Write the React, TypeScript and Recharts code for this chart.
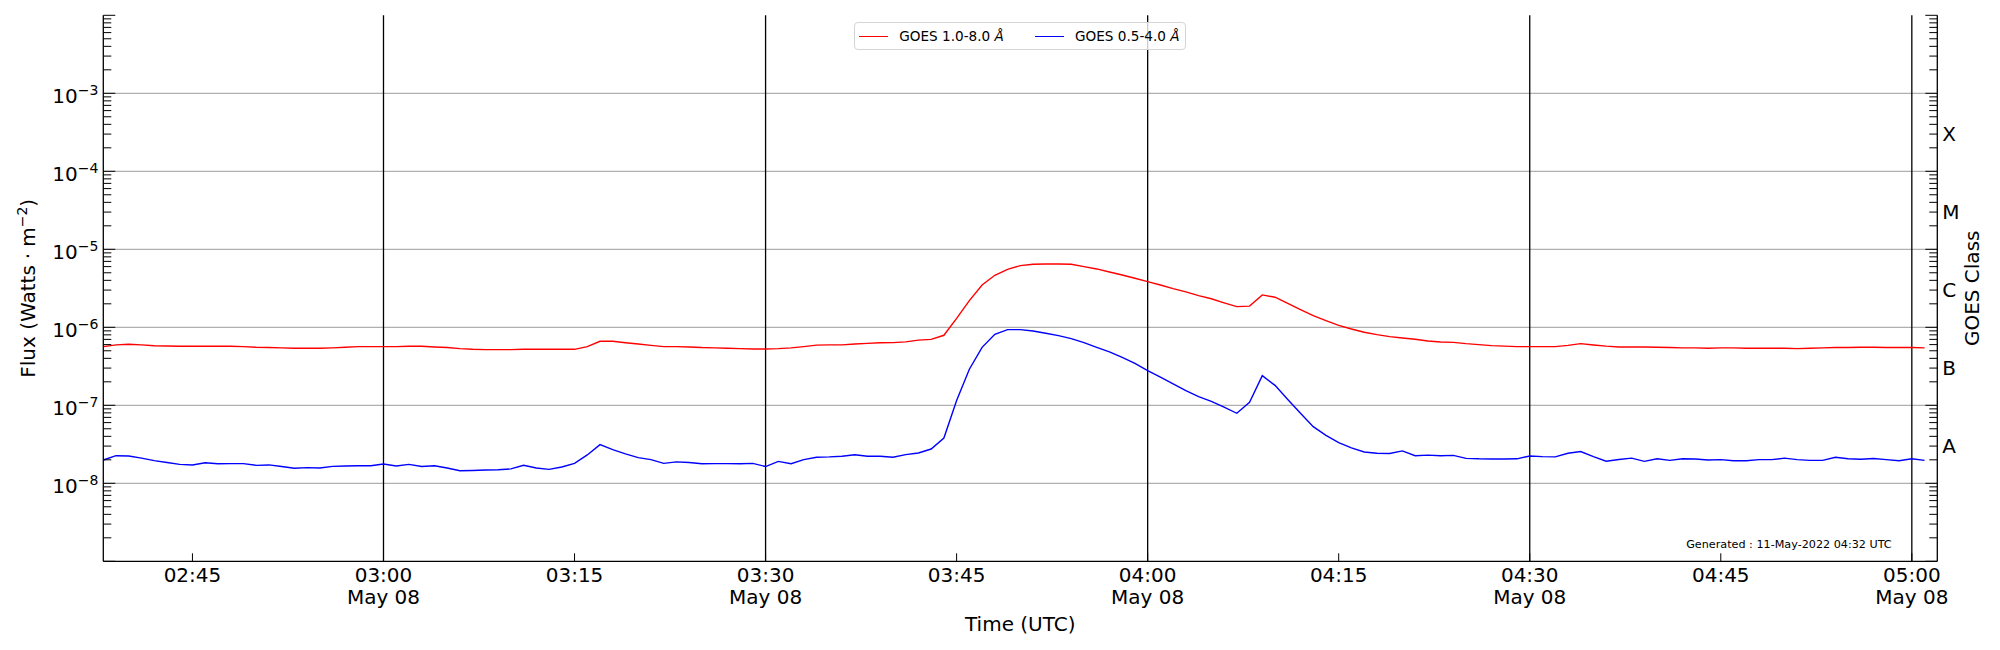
import {
  Legend,
  Line,
  LineChart,
  ReferenceLine,
  XAxis,
  YAxis,
} from "recharts";

// one-minute GOES XRS samples, 02:38 to 05:01 UTC on 2022-05-08
const START_MINUTE = 158; // 02:38 in minutes after midnight

// 1.0-8.0 Å channel, units of 1e-7 W/m^2
const longFlux = [
  5.65, 5.95, 6.05, 5.95, 5.8, 5.76, 5.71, 5.71, 5.71, 5.71, 5.71, 5.65,
  5.55, 5.5, 5.45, 5.38, 5.38, 5.38, 5.45, 5.55, 5.65, 5.65, 5.65, 5.65,
  5.71, 5.71, 5.6, 5.5, 5.33, 5.22, 5.17, 5.17, 5.17, 5.22, 5.22, 5.22,
  5.22, 5.22, 5.65, 6.61, 6.61, 6.35, 6.11, 5.87, 5.65, 5.65, 5.6, 5.5,
  5.45, 5.38, 5.33, 5.28, 5.28, 5.33, 5.45, 5.65, 5.9, 5.95, 5.95, 6.11,
  6.23, 6.35, 6.36, 6.5, 6.85, 7.0, 7.9, 13.0, 22.0, 34.9, 46.4, 55.4,
  61.7, 64.2, 64.7, 64.7, 64.2, 60.0, 56.0, 51.2, 46.9, 42.5, 38.5, 34.9,
  31.3, 28.4, 25.5, 23.2, 20.6, 18.4, 18.7, 26.0, 24.3, 20.2, 16.8, 14.1,
  12.2, 10.6, 9.5, 8.63, 8.05, 7.59, 7.3, 7.02, 6.68, 6.48, 6.4, 6.17,
  6.0, 5.82, 5.73, 5.65, 5.65, 5.65, 5.65, 5.87, 6.17, 5.93, 5.73, 5.6,
  5.6, 5.58, 5.55, 5.5, 5.45, 5.45, 5.38, 5.45, 5.45, 5.38, 5.38, 5.38,
  5.38, 5.33, 5.38, 5.45, 5.5, 5.5, 5.55, 5.55, 5.5, 5.5, 5.5, 5.45,
];

// 0.5-4.0 Å channel, units of 1e-8 W/m^2
const shortFlux = [
  1.99, 2.26, 2.24, 2.1, 1.95, 1.85, 1.75, 1.72, 1.83, 1.78, 1.79, 1.79,
  1.7, 1.72, 1.64, 1.56, 1.59, 1.57, 1.65, 1.67, 1.68, 1.68, 1.77, 1.67,
  1.75, 1.64, 1.68, 1.57, 1.45, 1.46, 1.48, 1.49, 1.53, 1.7, 1.57, 1.51,
  1.62, 1.8, 2.31, 3.13, 2.7, 2.38, 2.13, 2.01, 1.8, 1.88, 1.85, 1.78,
  1.79, 1.79, 1.78, 1.8, 1.64, 1.91, 1.78, 2.01, 2.16, 2.18, 2.22, 2.32,
  2.22, 2.22, 2.16, 2.33, 2.45, 2.75, 3.81, 11.5, 29.0, 55.4, 81.3, 93.3,
  93.3, 89.7, 83.8, 78.2, 71.6, 63.6, 55.4, 48.3, 41.2, 34.5, 27.8, 22.9,
  18.8, 15.4, 12.9, 11.2, 9.5, 7.9, 10.9, 24.0, 18.0, 11.9, 7.89, 5.33,
  4.12, 3.32, 2.84, 2.52, 2.43, 2.41, 2.6, 2.26, 2.3, 2.26, 2.28, 2.09,
  2.06, 2.05, 2.05, 2.06, 2.24, 2.2, 2.18, 2.43, 2.55, 2.2, 1.92, 2.02,
  2.1, 1.91, 2.06, 1.97, 2.06, 2.05, 1.99, 2.01, 1.95, 1.95, 2.01, 2.01,
  2.1, 2.01, 1.97, 1.97, 2.16, 2.06, 2.03, 2.08, 2.01, 1.95, 2.06, 1.97,
];

const seriesNames = ["GOES 1.0-8.0", "GOES 0.5-4.0"];
const seriesColors = ["#ff0000", "#0000ff"];

const xTickMinutes = [165, 180, 195, 210, 225, 240, 255, 270, 285, 300];
const xTickLabels = ["02:45", "03:00", "03:15", "03:30", "03:45", "04:00", "04:15", "04:30", "04:45", "05:00"];
const dateTickMinutes = [180, 210, 240, 270, 300];
const dateLabel = "May 08";

const decadeExponents = [-9, -8, -7, -6, -5, -4, -3, -2];
const labelledExponents = [-8, -7, -6, -5, -4, -3];
const goesClasses = ["A", "B", "C", "M", "X"];
const goesClassValues = [3e-8, 3e-7, 3e-6, 3e-5, 3e-4];

const generatedNote = "Generated : 11-May-2022 04:32 UTC";

const data = longFlux.map((v, i) => ({
  minute: START_MINUTE + i,
  long: v * 1e-7,
  short: shortFlux[i] * 1e-8,
}));

// major + minor log ticks
const logTicks: number[] = [];
decadeExponents.forEach((e) => {
  for (let m = 1; m <= 9; m++) {
    const v = m * Math.pow(10, e);
    if (v <= 1e-2) logTicks.push(Number(v.toPrecision(3)));
  }
});

const isDecade = (v: number) => Math.abs(Math.log10(v) - Math.round(Math.log10(v))) < 1e-6;

const LeftTick = (props: any) => {
  const { x, y, payload } = props;
  const v = payload.value;
  const major = isDecade(v);
  const exp = Math.round(Math.log10(v));
  return (
    <g>
      <line x1={x} x2={x + (major ? 12 : 8)} y1={y} y2={y} stroke="#000" strokeWidth={1} />
      {major && labelledExponents.includes(exp) && (
        <text x={x - 5} y={y + 10} textAnchor="end" fontSize={20} fill="#000">
          10
          <tspan dy={-8.5} fontSize={14}>
            {"\u2212" + Math.abs(exp)}
          </tspan>
        </text>
      )}
    </g>
  );
};

const RightTick = (props: any) => {
  const { x, y, payload } = props;
  const v = payload.value;
  const major = isDecade(v);
  const ci = goesClassValues.findIndex((c) => Math.abs(c - v) / c < 1e-6);
  return (
    <g>
      <line x1={x} x2={x - (major ? 12 : 8)} y1={y} y2={y} stroke="#000" strokeWidth={1} />
      {ci >= 0 && (
        <text x={x + 5} y={y + 7} textAnchor="start" fontSize={20} fill="#000">
          {goesClasses[ci]}
        </text>
      )}
    </g>
  );
};

const TimeTick = (props: any) => {
  const { x, y, payload } = props;
  const i = xTickMinutes.indexOf(payload.value);
  return (
    <g>
      <line x1={x} x2={x} y1={y} y2={y - 8} stroke="#000" strokeWidth={1} />
      <text x={x} y={y + 21} textAnchor="middle" fontSize={20} fill="#000">
        {xTickLabels[i]}
      </text>
      {dateTickMinutes.includes(payload.value) && (
        <text x={x} y={y + 43} textAnchor="middle" fontSize={20} fill="#000">
          {dateLabel}
        </text>
      )}
    </g>
  );
};

const FluxLabel = (props: any) => {
  const { viewBox } = props;
  const cx = viewBox.x + 35;
  const cy = viewBox.y + viewBox.height / 2;
  return (
    <text x={cx} y={cy} transform={`rotate(-90, ${cx}, ${cy})`} textAnchor="middle" fontSize={20} fill="#000">
      Flux (Watts
      <tspan dx={6}>·</tspan>
      <tspan dx={6}>m</tspan>
      <tspan dy={-8} fontSize={14}>
        {"\u22122"}
      </tspan>
      <tspan dy={8}>)</tspan>
    </text>
  );
};

const ClassLabel = (props: any) => {
  const { viewBox } = props;
  const cx = viewBox.x + 41.7;
  const cy = viewBox.y + viewBox.height / 2;
  return (
    <text x={cx} y={cy} transform={`rotate(-90, ${cx}, ${cy})`} textAnchor="middle" fontSize={20} fill="#000">
      GOES Class
    </text>
  );
};

const TimeLabel = (props: any) => {
  const { viewBox } = props;
  return (
    <g>
      <text x={viewBox.x + viewBox.width / 2} y={viewBox.y + 70} textAnchor="middle" fontSize={20} fill="#000">
        Time (UTC)
      </text>
      <text x={viewBox.x + viewBox.width - 45.6} y={viewBox.y - 13} textAnchor="end" fontSize={11.2} fill="#000">
        {generatedNote}
      </text>
    </g>
  );
};

// legend entries sit at fixed offsets inside the frame
const legendItemLeft = [4, 179.7];

function GoesLegend() {
  return (
    <div
      style={{
        position: "relative",
        boxSizing: "border-box",
        width: 332,
        height: 28,
        border: "1px solid #d4d4d4",
        borderRadius: 4,
        background: "rgba(255,255,255,0.8)",
        overflow: "hidden",
        fontSize: 13.6,
        color: "#000",
        whiteSpace: "nowrap",
      }}
    >
      {seriesNames.map((name, i) => (
        <div
          key={name}
          style={{ position: "absolute", left: legendItemLeft[i], top: 0, height: 26, display: "flex", alignItems: "center" }}
        >
          <div style={{ width: 29, height: 0, borderTop: `1.4px solid ${seriesColors[i]}`, marginRight: 11 }} />
          <span>
            {name} <i>Å</i>
          </span>
        </div>
      ))}
    </div>
  );
}

export default function App() {
  return (
    <div style={{ width: 2000, height: 650, fontFamily: "'DejaVu Sans', sans-serif", background: "#fff" }}>
      <style>{`body { margin: 0; }`}</style>
      <LineChart width={2000} height={650} data={data} margin={{ top: 15.3, right: 0, bottom: 0, left: 0 }}>
        <XAxis
          dataKey="minute"
          type="number"
          domain={[158, 302]}
          allowDataOverflow
          ticks={xTickMinutes}
          interval={0}
          height={88.7}
          tickSize={0}
          tickMargin={0}
          tickLine={false}
          axisLine={{ stroke: "#000", strokeWidth: 1.3 }}
          tick={<TimeTick />}
          label={<TimeLabel />}
        />
        <XAxis
          xAxisId="top"
          orientation="top"
          dataKey="minute"
          type="number"
          domain={[158, 302]}
          allowDataOverflow
          height={0}
          tick={false}
          tickLine={false}
          axisLine={{ stroke: "#000", strokeWidth: 1.3 }}
        />
        <YAxis
          yAxisId="left"
          scale="log"
          type="number"
          domain={[1e-9, 1e-2]}
          allowDataOverflow
          ticks={logTicks}
          interval={0}
          width={103.3}
          tickSize={0}
          tickMargin={0}
          tickLine={false}
          axisLine={{ stroke: "#000", strokeWidth: 1.3 }}
          tick={<LeftTick />}
          label={<FluxLabel />}
        />
        <YAxis
          yAxisId="right"
          orientation="right"
          scale="log"
          type="number"
          domain={[1e-9, 1e-2]}
          allowDataOverflow
          ticks={logTicks}
          interval={0}
          width={62.7}
          tickSize={0}
          tickMargin={0}
          tickLine={false}
          axisLine={{ stroke: "#000", strokeWidth: 1.3 }}
          tick={<RightTick />}
          label={<ClassLabel />}
        />
        {labelledExponents.map((e) => (
          <ReferenceLine key={e} yAxisId="left" y={Math.pow(10, e)} stroke="#b0b0b0" strokeWidth={1.2} />
        ))}
        {dateTickMinutes.map((m) => (
          <ReferenceLine key={m} yAxisId="left" x={m} stroke="#000" strokeWidth={1.3} />
        ))}
        <Legend
          verticalAlign="middle"
          layout="horizontal"
          wrapperStyle={{ left: 854.3, top: 22.3, width: 332, height: 28 }}
          content={() => <GoesLegend />}
        />
        <Line
          yAxisId="left"
          dataKey="long"
          name={seriesNames[0]}
          stroke={seriesColors[0]}
          strokeWidth={1.4}
          dot={false}
          type="linear"
          isAnimationActive={false}
        />
        <Line
          yAxisId="left"
          dataKey="short"
          name={seriesNames[1]}
          stroke={seriesColors[1]}
          strokeWidth={1.4}
          dot={false}
          type="linear"
          isAnimationActive={false}
        />
      </LineChart>
    </div>
  );
}
